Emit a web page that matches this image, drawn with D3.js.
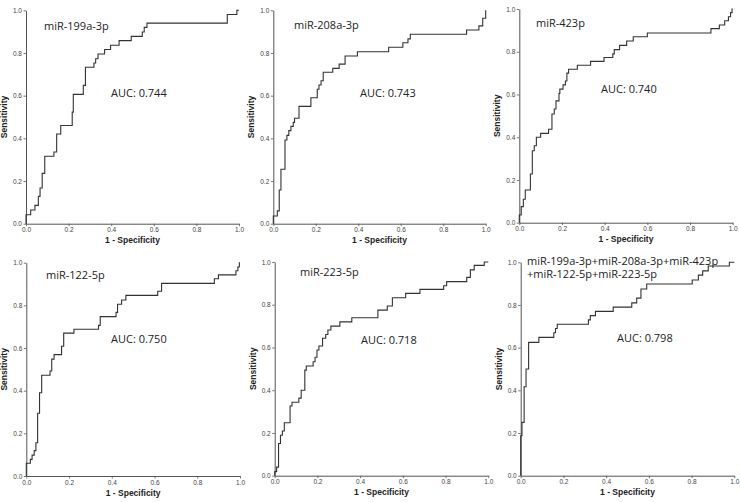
<!DOCTYPE html>
<html><head><meta charset="utf-8">
<script src="https://cdn.jsdelivr.net/npm/d3@7"></script>
<style>
html,body{margin:0;padding:0;background:#fff;}
svg{display:block;}
</style>
</head><body>
<svg id="c" width="740" height="502"></svg>
<script>
// ---- data ----
const panelNames = [
  ["miR-199a-3p"],
  ["miR-208a-3p"],
  ["miR-423p"],
  ["miR-122-5p"],
  ["miR-223-5p"],
  ["miR-199a-3p+miR-208a-3p+miR-423p", "+miR-122-5p+miR-223-5p"]
];
const aucValues = ["0.744", "0.743", "0.740", "0.750", "0.718", "0.798"];
const tickValues = [0, 0.2, 0.4, 0.6, 0.8, 1.0];
const xAxisTitle = "1 - Specificity";
const yAxisTitle = "Sensitivity";

// ROC points [1 - specificity, sensitivity]
const roc199 = [[0,0],[0,0.042],[0.022,0.064],[0.042,0.086],[0.058,0.128],[0.066,0.167],[0.076,0.236],[0.088,0.316],[0.131,0.336],[0.144,0.42],[0.163,0.46],[0.217,0.523],[0.222,0.606],[0.269,0.648],[0.279,0.733],[0.319,0.753],[0.327,0.773],[0.338,0.795],[0.369,0.816],[0.397,0.836],[0.437,0.858],[0.494,0.878],[0.546,0.898],[0.555,0.92],[0.568,0.94],[0.945,0.98],[0.99,1.0],[1,1]];
const roc208 = [[0,0],[0,0.036],[0.019,0.06],[0.028,0.158],[0.036,0.255],[0.055,0.392],[0.064,0.414],[0.073,0.436],[0.083,0.456],[0.094,0.475],[0.1,0.494],[0.121,0.55],[0.177,0.59],[0.207,0.63],[0.215,0.65],[0.225,0.67],[0.235,0.71],[0.28,0.728],[0.31,0.748],[0.338,0.786],[0.396,0.806],[0.543,0.827],[0.61,0.848],[0.634,0.866],[0.645,0.888],[0.91,0.908],[0.968,0.927],[0.986,0.963],[1,1]];
const roc423 = [[0,0],[0,0.036],[0.009,0.075],[0.019,0.11],[0.028,0.153],[0.052,0.228],[0.061,0.337],[0.07,0.36],[0.08,0.4],[0.1,0.418],[0.137,0.437],[0.153,0.509],[0.164,0.532],[0.172,0.57],[0.186,0.605],[0.19,0.625],[0.205,0.645],[0.216,0.663],[0.223,0.7],[0.231,0.718],[0.272,0.737],[0.334,0.755],[0.397,0.773],[0.438,0.79],[0.445,0.81],[0.47,0.83],[0.503,0.85],[0.534,0.87],[0.6,0.888],[0.898,0.908],[0.9375,0.925],[0.9625,0.945],[0.98,0.964],[0.99,0.983],[0.997,1.0],[1,1]];
const roc122 = [[0,0],[0,0.06],[0.019,0.078],[0.027,0.098],[0.037,0.119],[0.045,0.156],[0.053,0.294],[0.062,0.39],[0.072,0.472],[0.111,0.492],[0.119,0.548],[0.13,0.569],[0.165,0.608],[0.175,0.67],[0.223,0.688],[0.338,0.706],[0.346,0.747],[0.42,0.767],[0.427,0.805],[0.446,0.825],[0.466,0.847],[0.615,0.866],[0.633,0.903],[0.88,0.925],[0.899,0.943],[0.981,0.962],[0.99,0.98],[0.997,1.0],[1,1]];
const roc223 = [[0,0],[0,0.019],[0.009,0.04],[0.018,0.151],[0.027,0.189],[0.036,0.209],[0.045,0.248],[0.072,0.326],[0.081,0.344],[0.113,0.363],[0.124,0.4],[0.141,0.494],[0.148,0.513],[0.18,0.533],[0.189,0.554],[0.198,0.588],[0.207,0.607],[0.224,0.643],[0.239,0.661],[0.249,0.682],[0.263,0.7],[0.305,0.72],[0.361,0.739],[0.483,0.775],[0.527,0.794],[0.551,0.833],[0.613,0.853],[0.68,0.872],[0.791,0.889],[0.805,0.908],[0.899,0.928],[0.916,0.963],[0.934,0.984],[0.981,1.0],[1,1]];
const rocCombined = [[0,0],[0,0.1875],[0.006,0.25],[0.016,0.417],[0.025,0.5],[0.037,0.625],[0.085,0.648],[0.155,0.67],[0.163,0.69],[0.171,0.71],[0.317,0.73],[0.326,0.75],[0.35,0.77],[0.433,0.79],[0.52,0.81],[0.543,0.832],[0.563,0.875],[0.59,0.898],[0.803,0.917],[0.832,0.94],[0.852,0.96],[0.878,0.983],[0.977,1.0],[1,1]];
const rocSeries = [roc199, roc208, roc423, roc122, roc223, rocCombined];

// ---- layout (positions only) ----
const layout = [
  {x0:26,    x1:239,   yT:10.3, yB:223.7, nx:44,  ny:30,  ax:111, ay:97},
  {x0:273.3, x1:485.7, yT:10.3, yB:223.7, nx:294, ny:29,  ax:360, ay:97},
  {x0:519.3, x1:732.7, yT:9,    yB:222.7, nx:536, ny:27,  ax:601, ay:93},
  {x0:26.3,  x1:240,   yT:262.7,yB:476,   nx:46,  ny:279, ax:111, ay:343},
  {x0:274.7, x1:488.3, yT:262,  yB:475.7, nx:300, ny:276, ax:361, ay:344},
  {x0:520.7, x1:734.3, yT:262.3,yB:475.7, nx:527, ny:264.5, ax:617, ay:342}
];

const svg = d3.select("#c");
const axisColor = "#555";
const tickFont = "'Liberation Sans', Arial, sans-serif";
const labelFont = "'Open Sans', 'Noto Sans', sans-serif";

rocSeries.forEach((data, i) => {
  const L = layout[i];
  const x = d3.scaleLinear().domain([0,1]).range([L.x0, L.x1]);
  const y = d3.scaleLinear().domain([0,1]).range([L.yB, L.yT]);
  const g = svg.append("g");

  const fmt = d3.format(".1f");
  const xa = g.append("g").attr("transform", `translate(0,${L.yB})`)
    .call(d3.axisBottom(x).tickValues(tickValues).tickFormat(fmt).tickSize(2.5).tickSizeOuter(0).tickPadding(1.5));
  const ya = g.append("g").attr("transform", `translate(${L.x0},0)`)
    .call(d3.axisLeft(y).tickValues(tickValues).tickFormat(fmt).tickSize(2.5).tickSizeOuter(0).tickPadding(1.5));
  [xa, ya].forEach(a => {
    a.select(".domain").attr("stroke", axisColor).attr("stroke-width", 1);
    a.selectAll(".tick line").attr("stroke", axisColor).attr("stroke-width", 0.8);
    a.selectAll(".tick text").attr("fill", "#444").attr("font-size", 6.5).attr("font-family", tickFont);
  });

  // axis titles
  g.append("text").attr("x", (L.x0 + L.x1)/2).attr("y", L.yB + 19.5)
    .attr("text-anchor", "middle").attr("font-family", tickFont).attr("font-weight", "bold")
    .attr("font-size", 8.5).attr("fill", "#222").text(xAxisTitle);
  g.append("text").attr("transform", `translate(${L.x0 - 19},${(L.yT + L.yB)/2}) rotate(-90)`)
    .attr("text-anchor", "middle").attr("font-family", tickFont).attr("font-weight", "bold")
    .attr("font-size", 8.5).attr("fill", "#222").text(yAxisTitle);

  // curve
  const line = d3.line().x(d => x(d[0])).y(d => y(d[1])).curve(d3.curveStepAfter);
  g.append("path").datum(data).attr("d", line)
    .attr("fill", "none").attr("stroke", "#333").attr("stroke-width", 1.1);

  // labels
  panelNames[i].forEach((t, k) => {
    g.append("text").attr("x", L.nx).attr("y", L.ny + k*13.5)
      .attr("font-family", labelFont).attr("font-size", 11).attr("fill", "#222").text(t);
  });
  g.append("text").attr("x", L.ax).attr("y", L.ay)
    .attr("font-family", labelFont).attr("font-size", 11).attr("fill", "#222").text("AUC: " + aucValues[i]);
});
</script>
</body></html>
